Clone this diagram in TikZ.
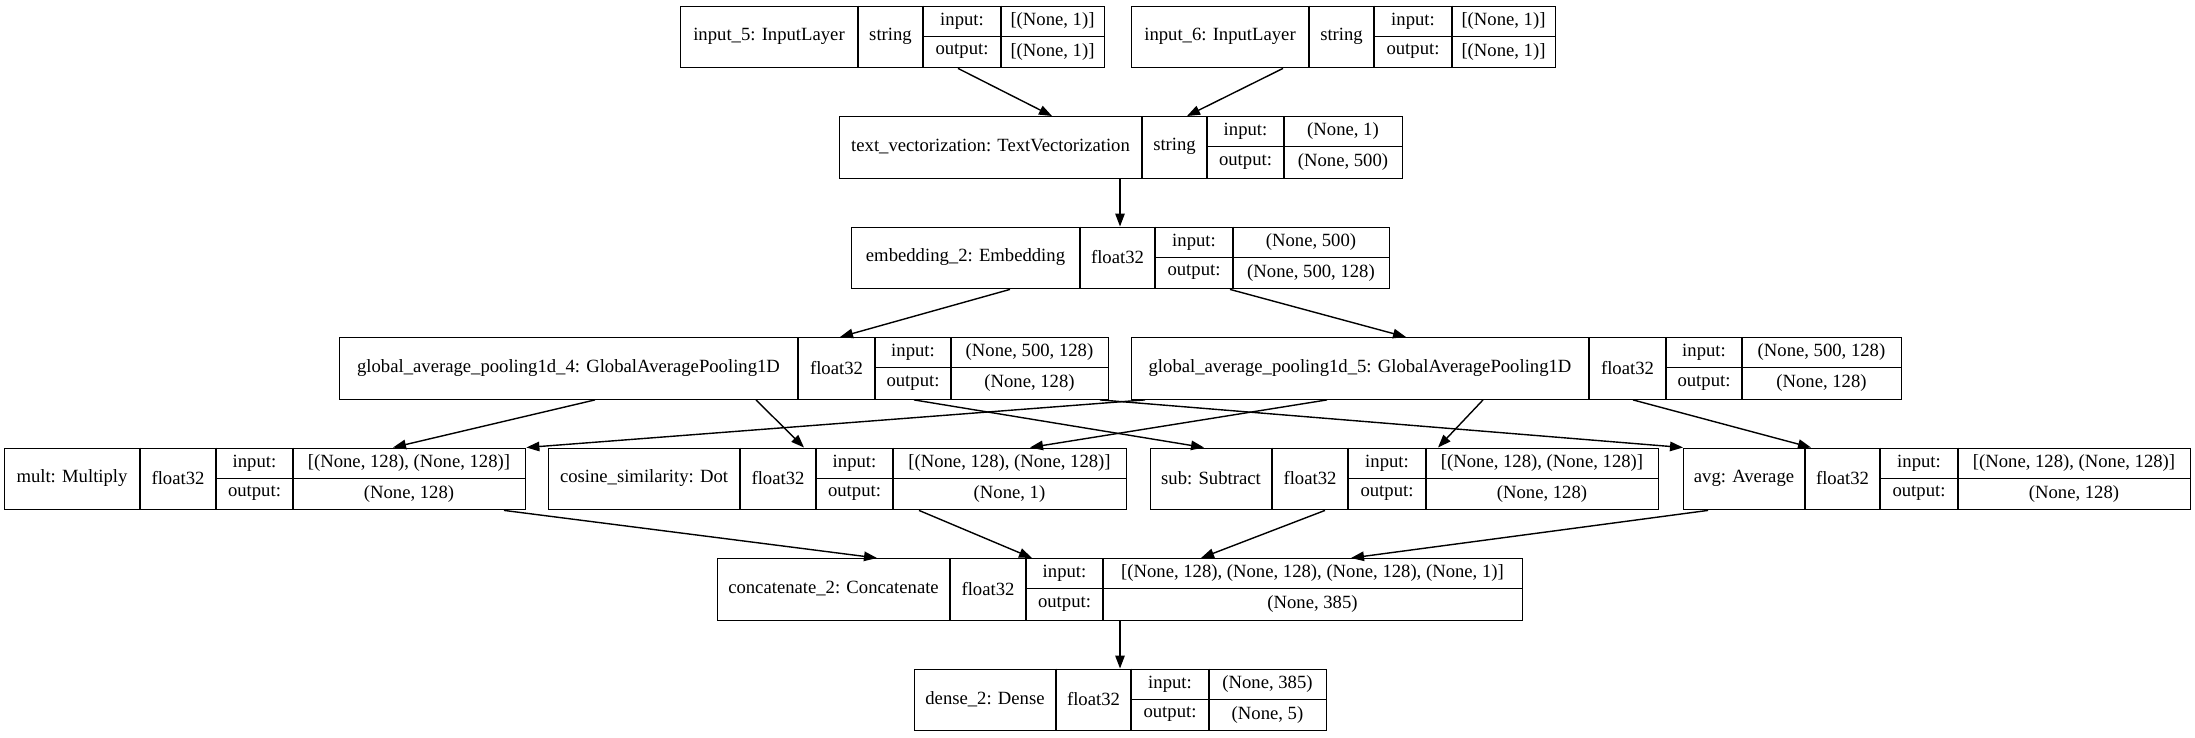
\documentclass[tikz,border=0pt]{standalone}
\usepackage{fontspec}
\setmainfont{Liberation Serif}
\usetikzlibrary{arrows.meta}

\tikzset{
  layerbox/.style={draw, line width=1.4pt, inner sep=0pt, anchor=north west},
  rule/.style={line width=1.4pt},
  celltext/.style={font=\fontsize{18.67}{22}\selectfont, inner sep=0pt, anchor=center},
  edge/.style={line width=1.4pt, -{Triangle[length=13pt,width=9.5pt]}},
}

% split "x0/x1/x2/x3/x4" into the column borders of one record
\def\splitcols#1/#2/#3/#4/#5\relax{%
  \def\xa{#1}\def\xb{#2}\def\xc{#3}\def\xd{#4}\def\xe{#5}}

% \layer{name}{top}{x0/x1/x2/x3/x4}{label}{dtype}{input shape}{output shape}
\newcommand\layer[7]{%
  \splitcols#3\relax
  \pgfmathsetmacro\yb{#2+61.5}%
  \pgfmathsetmacro\ym{#2+30.75}%
  \node[layerbox, minimum width={(\xe-\xa)*1pt}, minimum height=61.5pt] (#1) at (\xa,#2) {};
  \draw[rule] (\xb,#2) -- (\xb,\yb);
  \draw[rule] (\xc,#2) -- (\xc,\yb);
  \draw[rule] (\xd,#2) -- (\xd,\yb);
  \draw[rule] (\xc,\ym) -- (\xe,\ym);
  \node[celltext] at ({(\xa+\xb)/2},\ym) {#4};
  \node[celltext] at ({(\xb+\xc)/2},\ym) {#5};
  \node[celltext] at ({(\xc+\xd)/2},{#2+15.4}) {input:};
  \node[celltext] at ({(\xc+\xd)/2},{#2+46.1}) {output:};
  \node[celltext] at ({(\xd+\xe)/2},{#2+15.4}) {#6};
  \node[celltext] at ({(\xd+\xe)/2},{#2+46.1}) {#7};
}

\begin{document}
\begin{tikzpicture}[x=1pt, y=-1pt]
  \fill[white] (0,0) rectangle (2195,737);
  \useasboundingbox (0,0) rectangle (2195,737);

  % layers, top to bottom
  \layer{in5}{5.5}{680/858/923/1001/1104}{input\_5: InputLayer}{string}{[(None, 1)]}{[(None, 1)]}
  \layer{in6}{5.5}{1131/1309/1374/1452/1555}{input\_6: InputLayer}{string}{[(None, 1)]}{[(None, 1)]}
  \layer{tv}{116}{839/1142/1207/1284/1402}{text\_vectorization: TextVectorization}{string}{(None, 1)}{(None, 500)}
  \layer{emb}{226.5}{851/1080/1155/1233/1389}{embedding\_2: Embedding}{float32}{(None, 500)}{(None, 500, 128)}
  \layer{g4}{337}{339/798/875/951/1108}{global\_average\_pooling1d\_4: GlobalAveragePooling1D}{float32}{(None, 500, 128)}{(None, 128)}
  \layer{g5}{337}{1131/1589/1666/1742/1901}{global\_average\_pooling1d\_5: GlobalAveragePooling1D}{float32}{(None, 500, 128)}{(None, 128)}
  \layer{mult}{447.5}{4/140/216/293/525}{mult: Multiply}{float32}{[(None, 128), (None, 128)]}{(None, 128)}
  \layer{cos}{447.5}{548/740/816/893/1126}{cosine\_similarity: Dot}{float32}{[(None, 128), (None, 128)]}{(None, 1)}
  \layer{sub}{447.5}{1150/1272/1348/1426/1658}{sub: Subtract}{float32}{[(None, 128), (None, 128)]}{(None, 128)}
  \layer{avg}{447.5}{1683/1805/1880/1958/2190}{avg: Average}{float32}{[(None, 128), (None, 128)]}{(None, 128)}
  \layer{cat}{558}{717/950/1026/1103/1522}{concatenate\_2: Concatenate}{float32}{[(None, 128), (None, 128), (None, 128), (None, 1)]}{(None, 385)}
  \layer{dense}{668.5}{914/1056/1131/1209/1326}{dense\_2: Dense}{float32}{(None, 385)}{(None, 5)}

  % connections
  \draw[edge] ([xshift=278pt]in5.south west) -- ([xshift=213pt]tv.north west);
  \draw[edge] ([xshift=152pt]in6.south west) -- ([xshift=348pt]tv.north west);
  \draw[edge] ([xshift=281pt]tv.south west) -- ([xshift=269pt]emb.north west);
  \draw[edge] ([xshift=159pt]emb.south west) -- ([xshift=501pt]g4.north west);
  \draw[edge] ([xshift=379pt]emb.south west) -- ([xshift=275pt]g5.north west);

  \draw[edge] ([xshift=256pt]g4.south west) -- ([xshift=389pt]mult.north west);
  \draw[edge] ([xshift=417pt]g4.south west) -- ([xshift=256pt]cos.north west);
  \draw[edge] ([xshift=575pt]g4.south west) -- ([xshift=54pt]sub.north west);
  \draw[edge] ([xshift=761pt]g4.south west) -- (avg.north west);

  \draw[edge] ([xshift=14pt]g5.south west) -- (mult.north east);
  \draw[edge] ([xshift=196pt]g5.south west) -- ([xshift=482pt]cos.north west);
  \draw[edge] ([xshift=352pt]g5.south west) -- ([xshift=288pt]sub.north west);
  \draw[edge] ([xshift=502pt]g5.south west) -- ([xshift=128pt]avg.north west);

  \draw[edge] ([xshift=500pt]mult.south west) -- ([xshift=160pt]cat.north west);
  \draw[edge] ([xshift=371pt]cos.south west) -- ([xshift=315pt]cat.north west);
  \draw[edge] ([xshift=175pt]sub.south west) -- ([xshift=484pt]cat.north west);
  \draw[edge] ([xshift=25pt]avg.south west) -- ([xshift=634pt]cat.north west);

  \draw[edge] ([xshift=403pt]cat.south west) -- ([xshift=206pt]dense.north west);
\end{tikzpicture}
\end{document}
